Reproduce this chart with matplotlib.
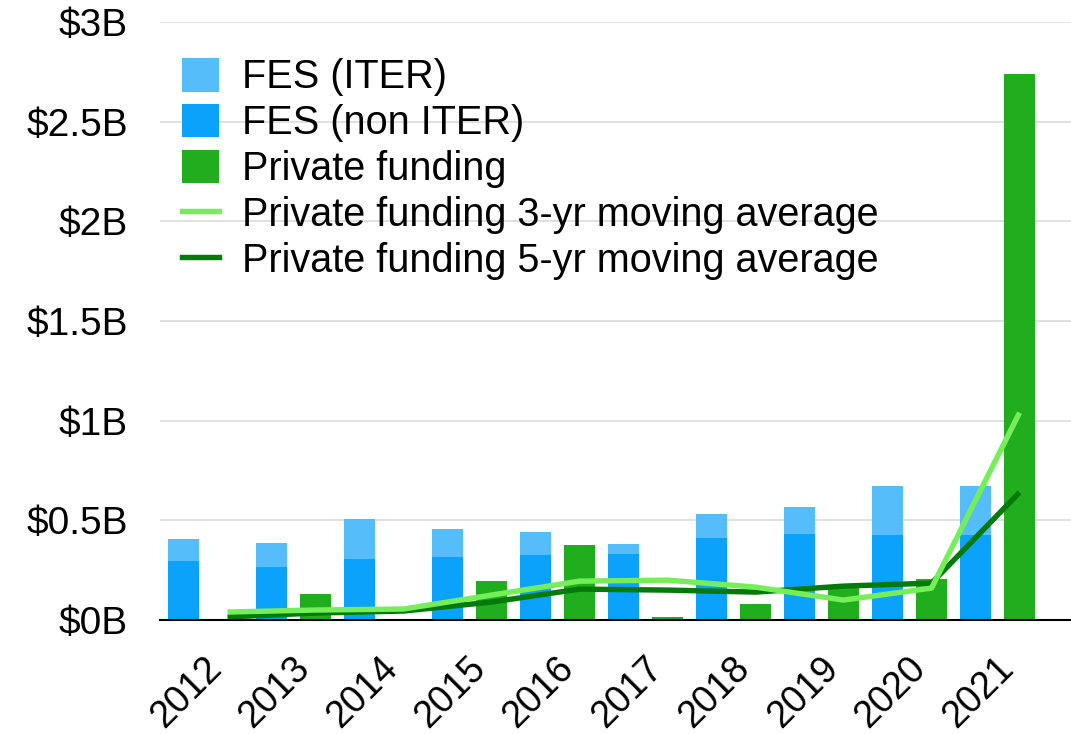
import matplotlib
matplotlib.use("Agg")
import matplotlib.pyplot as plt
import numpy as np
from matplotlib.patches import Patch
from matplotlib.lines import Line2D

plt.rcParams['font.family'] = ['Liberation Sans', 'DejaVu Sans']

years = ['2012', '2013', '2014', '2015', '2016', '2017', '2018', '2019', '2020', '2021']
fes_non_iter = [0.295, 0.265, 0.305, 0.315, 0.325, 0.33, 0.41, 0.43, 0.425, 0.425]
fes_iter = [0.11, 0.12, 0.20, 0.14, 0.115, 0.05, 0.12, 0.135, 0.245, 0.245]
private = [0.0, 0.13, 0.0, 0.195, 0.375, 0.015, 0.08, 0.17, 0.205, 2.74]
ma3 = [0.04, 0.05, 0.055, 0.125, 0.195, 0.2, 0.165, 0.10, 0.16, 1.04]
ma5 = [0.015, 0.035, 0.045, 0.09, 0.155, 0.15, 0.14, 0.17, 0.185, 0.64]
yticks = [0, 0.5, 1, 1.5, 2, 2.5, 3]
ytick_labels = ['$0B', '$0.5B', '$1B', '$1.5B', '$2B', '$2.5B', '$3B']

c_iter = '#56BDFB'
c_non = '#0AA2FB'
c_priv = '#20AD1E'
c_ma3 = '#76EE59'
c_ma5 = '#047A0A'

fig = plt.figure(figsize=(10.71, 7.34), dpi=100)
ax = fig.add_axes([160/1071, 1 - 620/734, 1 - 160/1071, (620 - 22)/734])

x = np.arange(len(years))
w = 0.35
xb = x - 0.25
xg = x + 0.25
ax.bar(xb, fes_non_iter, w, color=c_non, zorder=2)
ax.bar(xb, fes_iter, w, bottom=fes_non_iter, color=c_iter, zorder=2)
ax.bar(xg, private, w, color=c_priv, zorder=2)
ax.plot(xg, ma5, color=c_ma5, lw=3.9, zorder=3, solid_capstyle='butt')
ax.plot(xg, ma3, color=c_ma3, lw=3.9, zorder=4, solid_capstyle='butt')

ax.set_xlim(-0.517, 9.835)
ax.set_ylim(0, 3)
ax.set_yticks(yticks)
ax.set_yticklabels(ytick_labels, fontsize=28)
ax.set_xticks(x + 0.27)
ax.set_xticklabels(years, fontsize=27, rotation=45, ha='right')
ax.tick_params(axis='y', length=0, pad=23)
ax.tick_params(axis='x', length=0, pad=22)
ax.grid(axis='y', color='#dadada', lw=1.2, zorder=0)
ax.set_axisbelow(True)
for s in ['top', 'right', 'left']:
    ax.spines[s].set_visible(False)
ax.spines['bottom'].set_color('black')
ax.spines['bottom'].set_linewidth(1.5)
ax.spines['bottom'].set_zorder(5)

handles = [
    Patch(facecolor=c_iter, label='FES (ITER)'),
    Patch(facecolor=c_non, label='FES (non ITER)'),
    Patch(facecolor=c_priv, label='Private funding'),
    Line2D([], [], color=c_ma3, lw=3.9, label='Private funding 3-yr moving average'),
    Line2D([], [], color=c_ma5, lw=3.9, label='Private funding 5-yr moving average'),
]
ax.legend(handles=handles, loc='upper left', bbox_to_anchor=(0.024, 0.94),
          frameon=False, fontsize=28.5, handlelength=0.93, handleheight=0.93,
          handletextpad=0.6, labelspacing=0.19, borderpad=0, borderaxespad=0)

fig.savefig('out.png', dpi=100)
